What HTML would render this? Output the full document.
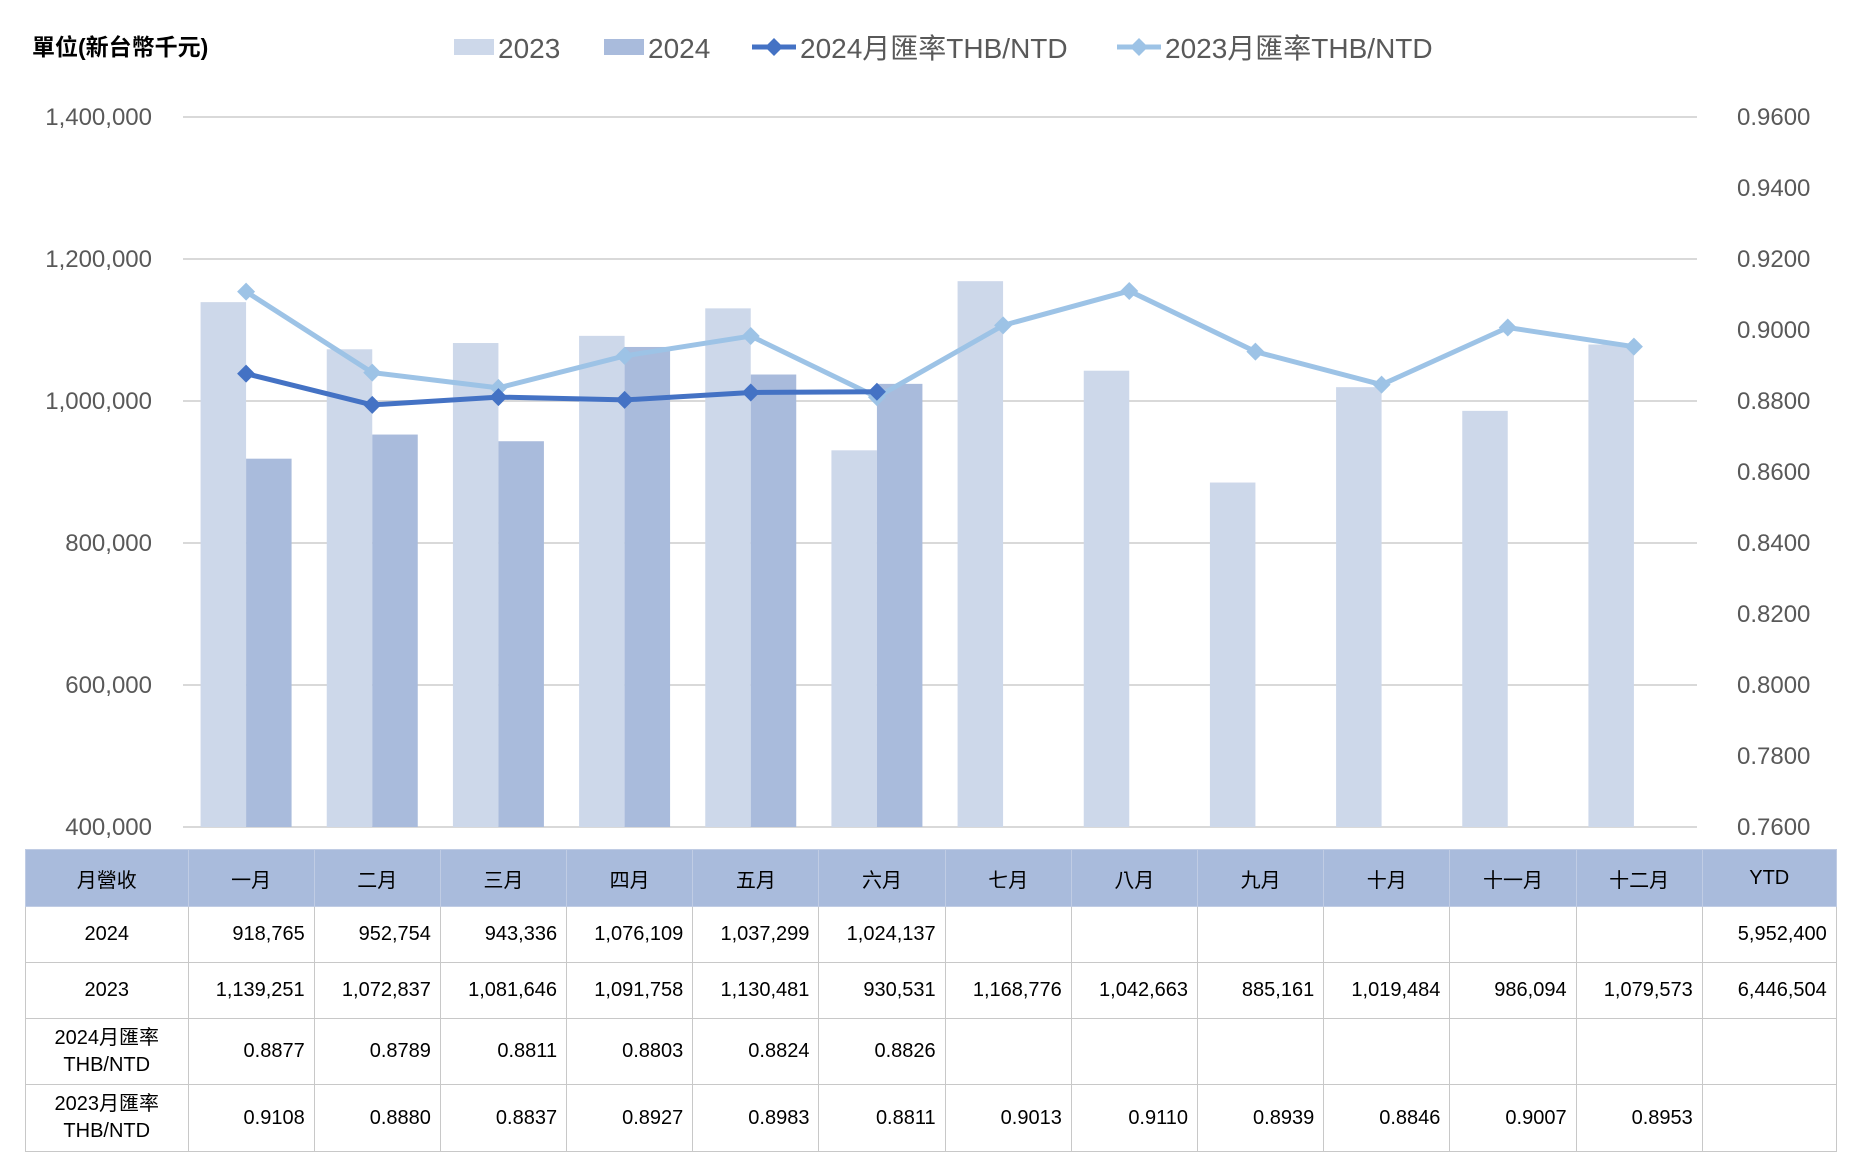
<!DOCTYPE html>
<html><head><meta charset="utf-8">
<style>
body{margin:0;background:#fff;width:1862px;height:1153px;overflow:hidden;font-family:"Liberation Sans","Noto Sans CJK TC",sans-serif;}
#chart{position:absolute;left:0;top:0}
table{position:absolute;left:25px;top:849px;border-collapse:collapse;font-size:20px;color:#000;table-layout:fixed}
td,th{border:1.5px solid #c8c8c8;padding:0 9px 0 0;text-align:right;height:55px;font-weight:normal}
th{background:#a9bbdc;text-align:center;padding:0;height:56px;border-color:#c0cce4}
td.l{text-align:center;padding:0;line-height:27px}
tr.r3 td{height:65px}
tr.r4 td{height:66px}
</style></head><body>
<svg id="chart" width="1862" height="848"></svg>
<table>
<colgroup><col style="width:162.5px"><col span="12" style="width:126.2px"><col style="width:134px"></colgroup>
<tr><th>月營收</th><th>一月</th><th>二月</th><th>三月</th><th>四月</th><th>五月</th><th>六月</th><th>七月</th><th>八月</th><th>九月</th><th>十月</th><th>十一月</th><th>十二月</th><th>YTD</th></tr>
<tr><td class="l">2024</td><td>918,765</td><td>952,754</td><td>943,336</td><td>1,076,109</td><td>1,037,299</td><td>1,024,137</td><td></td><td></td><td></td><td></td><td></td><td></td><td>5,952,400</td></tr>
<tr><td class="l">2023</td><td>1,139,251</td><td>1,072,837</td><td>1,081,646</td><td>1,091,758</td><td>1,130,481</td><td>930,531</td><td>1,168,776</td><td>1,042,663</td><td>885,161</td><td>1,019,484</td><td>986,094</td><td>1,079,573</td><td>6,446,504</td></tr>
<tr class="r3"><td class="l">2024月匯率<br>THB/NTD</td><td>0.8877</td><td>0.8789</td><td>0.8811</td><td>0.8803</td><td>0.8824</td><td>0.8826</td><td></td><td></td><td></td><td></td><td></td><td></td><td></td></tr>
<tr class="r4"><td class="l">2023月匯率<br>THB/NTD</td><td>0.9108</td><td>0.8880</td><td>0.8837</td><td>0.8927</td><td>0.8983</td><td>0.8811</td><td>0.9013</td><td>0.9110</td><td>0.8939</td><td>0.8846</td><td>0.9007</td><td>0.8953</td><td></td></tr>
</table>
<script>
const categories=["一月","二月","三月","四月","五月","六月","七月","八月","九月","十月","十一月","十二月"];
const rev2023=[1139251,1072837,1081646,1091758,1130481,930531,1168776,1042663,885161,1019484,986094,1079573];
const rev2024=[918765,952754,943336,1076109,1037299,1024137];
const rate2024=[0.8877,0.8789,0.8811,0.8803,0.8824,0.8826];
const rate2023=[0.9108,0.8880,0.8837,0.8927,0.8983,0.8811,0.9013,0.9110,0.8939,0.8846,0.9007,0.8953];
const leftTicks=[400000,600000,800000,1000000,1200000,1400000];
const rightTicks=[0.76,0.78,0.80,0.82,0.84,0.86,0.88,0.90,0.92,0.94,0.96];

const svg=document.getElementById('chart');
const NS='http://www.w3.org/2000/svg';
const PL=183,PR=1697,PT=117,PB=827;
const pitch=(PR-PL)/categories.length,bw=45.5;
const yL=v=>PB-(v-400000)/(1400000-400000)*(PB-PT);
const yR=v=>PB-(v-0.76)/(0.96-0.76)*(PB-PT);
const xC=i=>PL+pitch*(i+0.5);
function mk(tag,attrs,parent){const e=document.createElementNS(NS,tag);for(const k in attrs)e.setAttribute(k,attrs[k]);(parent||svg).appendChild(e);return e;}
function txt(x,y,s,attrs){const t=mk('text',Object.assign({x:x,y:y,'font-size':24,fill:'#595959','font-family':'Liberation Sans, Noto Sans CJK TC, sans-serif'},attrs||{}));t.textContent=s;return t;}

leftTicks.forEach(v=>{
  const g=mk('line',{x1:PL,x2:PR,y1:yL(v),y2:yL(v),stroke:'#d9d9d9','stroke-width':2});
  
  
  const t=txt(152,yL(v)+8,v.toLocaleString('en-US'),{'text-anchor':'end'});
  
  
});
rightTicks.forEach(v=>{
  const t=txt(1737,yR(v)+8,v.toFixed(4));
  
  
});
rev2023.forEach((v,i)=>{
  const r=mk('rect',{x:xC(i)-bw,y:yL(v),width:bw,height:PB-yL(v),fill:'#cdd8ea'});
  
  
});
rev2024.forEach((v,i)=>{
  const r=mk('rect',{x:xC(i),y:yL(v),width:bw,height:PB-yL(v),fill:'#a9bbdc'});
  
  
});
function series(arr,color,name){
  const p=mk('polyline',{points:arr.map((v,i)=>xC(i)+','+yR(v)).join(' '),fill:'none',stroke:color,'stroke-width':5,'stroke-linejoin':'round'});
  
  
  arr.forEach((v,i)=>{
    const x=xC(i),y=yR(v);
    const d=mk('polygon',{points:`${x},${y-9} ${x+9},${y} ${x},${y+9} ${x-9},${y}`,fill:color});
    
    
  });
}
series(rate2023,'#9dc3e6','rate-2023');
series(rate2024,'#4472c4','rate-2024');

// title & legend
const tt=txt(32,55,'單位(新台幣千元)',{'font-size':23,'font-weight':'bold',fill:'#000'});


function legRect(x,color,label){
  const r=mk('rect',{x:x,y:39,width:40,height:16,fill:color});
  
  
  const t=txt(x+44,58,label,{'font-size':28});
  
  
}
function legLine(x,color,label){
  const l=mk('line',{x1:x,x2:x+44,y1:47,y2:47,stroke:color,'stroke-width':5});
  
  
  const d=mk('polygon',{points:`${x+22},38 ${x+31},47 ${x+22},56 ${x+13},47`,fill:color});
  
  
  const t=txt(x+48,58,label,{'font-size':28});
  
  
}
legRect(454,'#cdd8ea','2023');
legRect(604,'#a9bbdc','2024');
legLine(752,'#4472c4','2024月匯率THB/NTD');
legLine(1117,'#9dc3e6','2023月匯率THB/NTD');
</script>
</body></html>
